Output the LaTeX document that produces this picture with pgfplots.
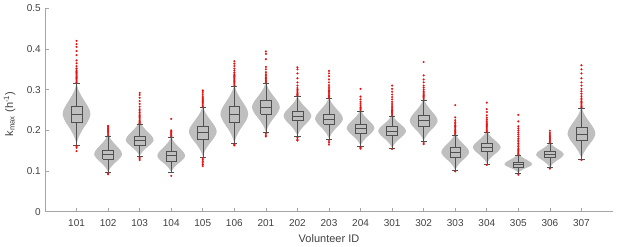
\documentclass[border=0pt]{standalone}
\usepackage{fontspec}
\setmainfont{Liberation Sans}
\usepackage{pgfplots}
\pgfplotsset{compat=1.18}
\definecolor{violc}{RGB}{191,191,191}
\definecolor{boxc}{RGB}{80,80,80}
\definecolor{axc}{RGB}{165,165,165}
\definecolor{labc}{RGB}{64,64,64}
\definecolor{outc}{RGB}{230,15,15}
\pgfplotsset{
  violin/.style={fill=violc, draw=none, smooth, tension=0.5, mark=none},
  boxl/.style={draw=boxc, line width=0.55pt, mark=none, unbounded coords=jump},
  outl/.style={only marks, color=outc, mark=*, mark size=1pt, mark options={draw=outc, fill=outc, line width=0.1pt}},
}
% box: position, median, q1, q3, lower whisker, upper whisker
\newcommand{\bp}[6]{%
  \pgfmathsetmacro\bxleft{#1-0.17}\pgfmathsetmacro\bxright{#1+0.17}%
  \pgfmathsetmacro\bxcapl{#1-0.1}\pgfmathsetmacro\bxcapr{#1+0.1}%
  \addplot[boxl] coordinates {(\bxleft,#3) (\bxright,#3) (\bxright,#4) (\bxleft,#4) (\bxleft,#3) (nan,nan) (\bxleft,#2) (\bxright,#2) (nan,nan) (#1,#4) (#1,#6) (nan,nan) (\bxcapl,#6) (\bxcapr,#6) (nan,nan) (#1,#3) (#1,#5) (nan,nan) (\bxcapl,#5) (\bxcapr,#5)};%
}
\begin{document}
\begin{tikzpicture}
\begin{axis}[
  scale only axis, width=568pt, height=203.4pt,
  xmin=0, xmax=18, ymin=0, ymax=0.5,
  axis x line*=bottom, axis y line*=left,
  xtick={1,...,17},
  xticklabels={101,102,103,104,105,106,201,202,203,204,301,302,303,304,305,306,307},
  ytick={0,0.1,0.2,0.3,0.4,0.5},
  tick align=inside, major tick length=3.5pt,
  axis line style={axc, line width=0.6pt}, tick style={axc, line width=0.6pt},
  /pgf/number format/assume math mode=true,
  yticklabel style={/pgf/number format/fixed, /pgf/number format/precision=1, anchor=east, inner sep=0pt, xshift=-4pt},
  xticklabel style={anchor=base, inner sep=0pt, yshift=-15pt},
  ticklabel style={font=\fontsize{10}{12}\selectfont, text=labc},
  xlabel={Volunteer ID},
  ylabel={k\textsubscript{max} (h\textsuperscript{-1})},
  label style={font=\fontsize{11}{13}\selectfont, text=labc},
  xlabel style={at={(axis description cs:0.5,-0.150)}, anchor=base, inner sep=0pt},
  ylabel style={at={(axis description cs:-0.0563,0.48)}, anchor=base, inner sep=0pt},
  clip=false,
]
% violins
\addplot[violin] coordinates {(1,.168) (1.08,.1855) (1.20,.203) (1.35,.2205) (1.44,.238) (1.40,.2528) (1.29,.2676) (1.17,.2824) (1.07,.2972) (1,.312) (0.93,.2972) (0.83,.2824) (0.71,.2676) (0.60,.2528) (0.56,.238) (0.65,.2205) (0.80,.203) (0.92,.1855) (1,.168)};
\addplot[violin] coordinates {(2,.098) (2.08,.1085) (2.20,.119) (2.35,.1295) (2.44,.140) (2.40,.150) (2.29,.160) (2.17,.170) (2.07,.180) (2,.190) (1.93,.180) (1.83,.170) (1.71,.160) (1.60,.150) (1.56,.140) (1.65,.1295) (1.80,.119) (1.92,.1085) (2,.098)};
\addplot[violin] coordinates {(3,.137) (3.08,.1465) (3.20,.156) (3.35,.1655) (3.44,.175) (3.40,.1844) (3.29,.1938) (3.17,.2032) (3.07,.2126) (3,.222) (2.93,.2126) (2.83,.2032) (2.71,.1938) (2.60,.1844) (2.56,.175) (2.65,.1655) (2.80,.156) (2.92,.1465) (3,.137)};
\addplot[violin] coordinates {(4,.098) (4.08,.1075) (4.20,.117) (4.35,.1265) (4.44,.136) (4.40,.1454) (4.29,.1548) (4.17,.1642) (4.07,.1736) (4,.183) (3.93,.1736) (3.83,.1642) (3.71,.1548) (3.60,.1454) (3.56,.136) (3.65,.1265) (3.80,.117) (3.92,.1075) (4,.098)};
\addplot[violin] coordinates {(5,.137) (5.08,.1515) (5.20,.166) (5.35,.1805) (5.44,.195) (5.40,.2076) (5.29,.2202) (5.17,.2328) (5.07,.2454) (5,.258) (4.93,.2454) (4.83,.2328) (4.71,.2202) (4.60,.2076) (4.56,.195) (4.65,.1805) (4.80,.166) (4.92,.1515) (5,.137)};
\addplot[violin] coordinates {(6,.170) (6.08,.187) (6.20,.204) (6.35,.221) (6.44,.238) (6.40,.2524) (6.29,.2668) (6.17,.2812) (6.07,.2956) (6,.310) (5.93,.2956) (5.83,.2812) (5.71,.2668) (5.60,.2524) (5.56,.238) (5.65,.221) (5.80,.204) (5.92,.187) (6,.170)};
\addplot[violin] coordinates {(7,.196) (7.08,.2108) (7.20,.2255) (7.35,.2403) (7.44,.255) (7.40,.2672) (7.29,.2794) (7.17,.2916) (7.07,.3038) (7,.316) (6.93,.3038) (6.83,.2916) (6.71,.2794) (6.60,.2672) (6.56,.255) (6.65,.2403) (6.80,.2255) (6.92,.2108) (7,.196)};
\addplot[violin] coordinates {(8,.187) (8.08,.1988) (8.20,.2105) (8.35,.2223) (8.44,.234) (8.40,.2438) (8.29,.2536) (8.17,.2634) (8.07,.2732) (8,.283) (7.93,.2732) (7.83,.2634) (7.71,.2536) (7.60,.2438) (7.56,.234) (7.65,.2223) (7.80,.2105) (7.92,.1988) (8,.187)};
\addplot[violin] coordinates {(9,.180) (9.08,.1918) (9.20,.2035) (9.35,.2153) (9.44,.227) (9.40,.2376) (9.29,.2482) (9.17,.2588) (9.07,.2694) (9,.280) (8.93,.2694) (8.83,.2588) (8.71,.2482) (8.60,.2376) (8.56,.227) (8.65,.2153) (8.80,.2035) (8.92,.1918) (9,.180)};
\addplot[violin] coordinates {(10,.163) (10.08,.1733) (10.20,.1835) (10.35,.1938) (10.44,.204) (10.40,.2132) (10.29,.2224) (10.17,.2316) (10.07,.2408) (10,.250) (9.93,.2408) (9.83,.2316) (9.71,.2224) (9.60,.2132) (9.56,.204) (9.65,.1938) (9.80,.1835) (9.92,.1733) (10,.163)};
\addplot[violin] coordinates {(11,.157) (11.08,.167) (11.20,.177) (11.35,.187) (11.44,.197) (11.40,.2052) (11.29,.2134) (11.17,.2216) (11.07,.2298) (11,.238) (10.93,.2298) (10.83,.2216) (10.71,.2134) (10.60,.2052) (10.56,.197) (10.65,.187) (10.80,.177) (10.92,.167) (11,.157)};
\addplot[violin] coordinates {(12,.174) (12.08,.186) (12.20,.198) (12.35,.210) (12.44,.222) (12.40,.233) (12.29,.244) (12.17,.255) (12.07,.266) (12,.277) (11.93,.266) (11.83,.255) (11.71,.244) (11.60,.233) (11.56,.222) (11.65,.210) (11.80,.198) (11.92,.186) (12,.174)};
\addplot[violin] coordinates {(13,.103) (13.08,.1135) (13.20,.124) (13.35,.1345) (13.44,.145) (13.40,.1544) (13.29,.1638) (13.17,.1732) (13.07,.1826) (13,.192) (12.93,.1826) (12.83,.1732) (12.71,.1638) (12.60,.1544) (12.56,.145) (12.65,.1345) (12.80,.124) (12.92,.1135) (13,.103)};
\addplot[violin] coordinates {(14,.119) (14.08,.1285) (14.20,.138) (14.35,.1475) (14.44,.157) (14.40,.1652) (14.29,.1734) (14.17,.1816) (14.07,.1898) (14,.198) (13.93,.1898) (13.83,.1816) (13.71,.1734) (13.60,.1652) (13.56,.157) (13.65,.1475) (13.80,.138) (13.92,.1285) (14,.119)};
\addplot[violin] coordinates {(15,.096) (15.08,.101) (15.20,.106) (15.35,.111) (15.44,.116) (15.40,.1212) (15.29,.1264) (15.17,.1316) (15.07,.1368) (15,.142) (14.93,.1368) (14.83,.1316) (14.71,.1264) (14.60,.1212) (14.56,.116) (14.65,.111) (14.80,.106) (14.92,.101) (15,.096)};
\addplot[violin] coordinates {(16,.109) (16.08,.1168) (16.20,.1245) (16.35,.1323) (16.44,.140) (16.40,.146) (16.29,.152) (16.17,.158) (16.07,.164) (16,.170) (15.93,.164) (15.83,.158) (15.71,.152) (15.60,.146) (15.56,.140) (15.65,.1323) (15.80,.1245) (15.92,.1168) (16,.109)};
\addplot[violin] coordinates {(17,.131) (17.08,.1458) (17.20,.1605) (17.35,.1753) (17.44,.190) (17.40,.2032) (17.29,.2164) (17.17,.2296) (17.07,.2428) (17,.256) (16.93,.2428) (16.83,.2296) (16.71,.2164) (16.60,.2032) (16.56,.190) (16.65,.1753) (16.80,.1605) (16.92,.1458) (17,.131)};
% boxes and whiskers
\bp{1}{0.240}{0.220}{0.260}{0.164}{0.316}
\bp{2}{0.141}{0.129}{0.152}{0.097}{0.186}
\bp{3}{0.176}{0.164}{0.186}{0.137}{0.214}
\bp{4}{0.138}{0.125}{0.149}{0.097}{0.182}
\bp{5}{0.196}{0.178}{0.211}{0.135}{0.257}
\bp{6}{0.240}{0.221}{0.258}{0.168}{0.309}
\bp{7}{0.257}{0.239}{0.273}{0.195}{0.316}
\bp{8}{0.235}{0.224}{0.248}{0.186}{0.283}
\bp{9}{0.228}{0.215}{0.239}{0.178}{0.278}
\bp{10}{0.205}{0.193}{0.216}{0.162}{0.248}
\bp{11}{0.198}{0.187}{0.209}{0.156}{0.235}
\bp{12}{0.224}{0.209}{0.237}{0.173}{0.275}
\bp{13}{0.146}{0.134}{0.158}{0.101}{0.189}
\bp{14}{0.158}{0.148}{0.168}{0.117}{0.195}
\bp{15}{0.116}{0.109}{0.121}{0.094}{0.139}
\bp{16}{0.140}{0.133}{0.148}{0.108}{0.168}
\bp{17}{0.191}{0.175}{0.207}{0.129}{0.254}
% outliers
\addplot[outl] coordinates {(1,.318) (1,.321) (1,.324) (1,.327) (1,.330) (1,.333) (1,.336) (1,.339) (1,.342) (1,.345) (1,.348) (1,.352) (1,.358) (1,.365) (1,.372) (1,.385) (1,.395) (1,.405) (1,.412) (1,.420) (1,.161) (1,.157) (1,.149)};
\addplot[outl] coordinates {(2,.188) (2,.191) (2,.194) (2,.197) (2,.200) (2,.203) (2,.206) (2,.209) (2,.211) (2,.094) (2,.092)};
\addplot[outl] coordinates {(3,.216) (3,.219) (3,.222) (3,.225) (3,.228) (3,.231) (3,.234) (3,.237) (3,.240) (3,.244) (3,.248) (3,.252) (3,.258) (3,.265) (3,.272) (3,.280) (3,.287) (3,.292) (3,.134) (3,.130) (3,.127)};
\addplot[outl] coordinates {(4,.185) (4,.188) (4,.191) (4,.194) (4,.197) (4,.200) (4,.228) (4,.088)};
\addplot[outl] coordinates {(5,.259) (5,.262) (5,.265) (5,.268) (5,.271) (5,.274) (5,.277) (5,.280) (5,.284) (5,.289) (5,.294) (5,.298) (5,.132) (5,.128) (5,.124) (5,.120) (5,.116) (5,.112)};
\addplot[outl] coordinates {(6,.311) (6,.314) (6,.317) (6,.320) (6,.323) (6,.326) (6,.329) (6,.332) (6,.335) (6,.338) (6,.342) (6,.347) (6,.352) (6,.358) (6,.364) (6,.370) (6,.165) (6,.163)};
\addplot[outl] coordinates {(7,.318) (7,.321) (7,.324) (7,.327) (7,.330) (7,.334) (7,.338) (7,.343) (7,.350) (7,.356) (7,.375) (7,.388) (7,.394) (7,.192) (7,.188) (7,.185)};
\addplot[outl] coordinates {(8,.285) (8,.288) (8,.291) (8,.294) (8,.297) (8,.300) (8,.304) (8,.310) (8,.318) (8,.328) (8,.340) (8,.350) (8,.355) (8,.182) (8,.178) (8,.175)};
\addplot[outl] coordinates {(9,.280) (9,.283) (9,.286) (9,.289) (9,.292) (9,.295) (9,.298) (9,.302) (9,.306) (9,.311) (9,.318) (9,.325) (9,.333) (9,.340) (9,.346) (9,.174) (9,.170) (9,.165)};
\addplot[outl] coordinates {(10,.250) (10,.253) (10,.256) (10,.260) (10,.265) (10,.270) (10,.276) (10,.283) (10,.302) (10,.158) (10,.155)};
\addplot[outl] coordinates {(11,.237) (11,.240) (11,.243) (11,.246) (11,.249) (11,.252) (11,.256) (11,.260) (11,.265) (11,.270) (11,.276) (11,.282) (11,.288) (11,.295) (11,.302) (11,.310) (11,.154)};
\addplot[outl] coordinates {(12,.277) (12,.280) (12,.283) (12,.286) (12,.289) (12,.292) (12,.296) (12,.300) (12,.305) (12,.310) (12,.318) (12,.325) (12,.335) (12,.368) (12,.169) (12,.166)};
\addplot[outl] coordinates {(13,.191) (13,.194) (13,.197) (13,.200) (13,.203) (13,.206) (13,.209) (13,.212) (13,.216) (13,.220) (13,.225) (13,.232) (13,.262) (13,.099)};
\addplot[outl] coordinates {(14,.197) (14,.200) (14,.203) (14,.206) (14,.209) (14,.212) (14,.215) (14,.218) (14,.222) (14,.226) (14,.231) (14,.237) (14,.245) (14,.252) (14,.268) (14,.115)};
\addplot[outl] coordinates {(15,.141) (15,.144) (15,.147) (15,.150) (15,.153) (15,.156) (15,.160) (15,.164) (15,.168) (15,.172) (15,.176) (15,.180) (15,.185) (15,.190) (15,.195) (15,.200) (15,.205) (15,.210) (15,.222) (15,.238) (15,.091)};
\addplot[outl] coordinates {(16,.170) (16,.173) (16,.176) (16,.179) (16,.182) (16,.185) (16,.188) (16,.191) (16,.194) (16,.199) (16,.106)};
\addplot[outl] coordinates {(17,.256) (17,.259) (17,.262) (17,.265) (17,.268) (17,.271) (17,.275) (17,.279) (17,.284) (17,.290) (17,.296) (17,.302) (17,.310) (17,.318) (17,.328) (17,.340) (17,.350) (17,.360) (17,.127)};
\end{axis}
\path ([shift={(-45pt,-34.3pt)}]current axis.south west) rectangle ([shift={(4pt,8.3pt)}]current axis.north east);
\end{tikzpicture}
\end{document}
